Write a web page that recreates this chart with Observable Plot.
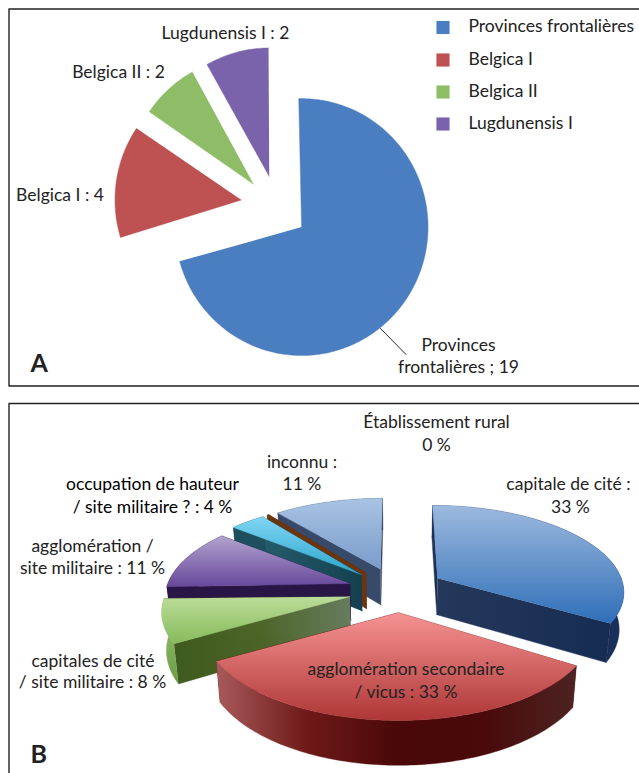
<!DOCTYPE html>
<html><head><meta charset="utf-8">
<script src="https://cdn.jsdelivr.net/npm/d3@7"></script>
<script src="https://cdn.jsdelivr.net/npm/@observablehq/plot@0.6"></script>
<style>html,body{margin:0;padding:0;background:#fff}svg{display:block}</style>
</head><body><div id="chart"></div>
<script>
// ---- data ----
const provinces = ["Provinces frontalières", "Belgica I", "Belgica II", "Lugdunensis I"];
const provinceCounts = [19, 4, 2, 2];
const siteTypes = ["capitale de cité", "agglomération secondaire / vicus", "capitales de cité / site militaire",
  "agglomération / site militaire", "occupation de hauteur / site militaire ?", "Établissement rural", "inconnu"];
const sitePercents = [33, 33, 8, 11, 4, 0.2, 11]; // "0 %" is drawn as a sliver in the source
const provinceColors = ["#4b7ec0", "#be5252", "#8fbd67", "#7b63ab"];

// ---- layout of the figure ----
const W = 639, H = 773, DEG = Math.PI / 180;
const pieA = {cx: 274.5, cy: 207, rx: 126.5, ry: 128.5, explode: 33, rot: -0.3 * DEG};
const shiftA = [[0, 0], [-1, -2], [0, 2], [2, 1]];
const twistA = [[-1, 1.5], [0, -2.5], [-2, -2], [-2.5, 0]]; // degrees, start and end of each rim
const pieB = {cx: 396, cy: 589, a: 187, b: 85.8, k: 0.1386, explode: 0.26, depth: 37, converge: 0.02};
const twistB = [[0, 2], [3.6, 3.6], [3, 3], [2, 2.5], [3.5, 2], [2, 2], [0, 0]];
const rimShiftB = [0, 0, 4, 3, 0, 0, 0];

// gradient styles [id, horizontal?, stops]
const gradients = [
  ["bTop", false, ["#9db9de", "#2f6fb8"]],
  ["bWall", true, ["#24385b", "#162c52"]],
  ["rTop", false, ["#f59392", "#ae3636"]],
  ["rWall", true, ["#a85a5a", "#6e1a18", "#4a0808", "#4a0a0a", "#4d2323"]],
  ["gTop", false, ["#bbdc98", "#86bb5c"]],
  ["gWall", true, ["#3f5a1e", "#4c6427", "#667c5e"]],
  ["gOuter", false, ["#9bc570", "#6d9c46"]],
  ["pTop", false, ["#b3a3cf", "#66489a"]],
  ["cTop", false, ["#80d6f4", "#2ba5cc"]],
  ["cWall", true, ["#245c6c", "#15404f"]],
  ["iTop", false, ["#a8c3e3", "#7a9ccb"]]
];
const sliceStyles = [
  {top: "url(#bTop)", cut: "url(#bWall)", outer: "#18305a"},
  {top: "url(#rTop)", cut: "#5a1010", outer: "url(#rWall)"},
  {top: "url(#gTop)", cut: "url(#gWall)", outer: "url(#gOuter)"},
  {top: "url(#pTop)", cut: "#2a1646", outer: "#2a1646"},
  {top: "url(#cTop)", cut: "url(#cWall)", outer: "#1d4f5f"},
  {top: "#6a3510", cut: "#6a3510", outer: "#6a3510"},
  {top: "url(#iTop)", cut: "#384a69", outer: "#384a69"}
];
const paintOrder = [6, 5, 4, 3, 0, 2, 1]; // back to front

function arcSteps(a0, a1) {
  const n = Math.max(2, Math.ceil(Math.abs(a1 - a0) / 0.02));
  return d3.range(n + 1).map(i => a0 + (a1 - a0) * i / n);
}

// ---- pie A, flat and exploded ----
const arcsA = d3.pie().sort(null)(provinceCounts);
const polysA = arcsA.map((d, i) => {
  const s = d.startAngle + pieA.rot, e = d.endAngle + pieA.rot, m = (s + e) / 2;
  const ox = pieA.cx + pieA.explode * Math.sin(m) + shiftA[i][0], oy = pieA.cy - pieA.explode * Math.cos(m) + shiftA[i][1];
  const rim = arcSteps(s + twistA[i][0] * DEG, e + twistA[i][1] * DEG)
    .map(t => ({x: ox + pieA.rx * Math.sin(t), y: oy - pieA.ry * Math.cos(t)}));
  return {pts: [{x: ox, y: oy}, ...rim], fill: provinceColors[i]};
});

// ---- pie B, exploded with a perspective projection and a vertical extrusion ----
function project(u, v) {
  const s = 1 / (1 - pieB.k * v);
  return {x: pieB.cx + pieB.a * u * s, y: pieB.cy + pieB.b * v * s, d: pieB.depth * s};
}
const lower = p => ({x: p.x + (pieB.cx - p.x) * pieB.converge, y: p.y + p.d});
const arcsB = d3.pie().sort(null)(sitePercents);
const polysB = [];
for (const i of paintOrder) {
  const d = arcsB[i], m = (d.startAngle + d.endAngle) / 2, st = sliceStyles[i];
  const du = pieB.explode * Math.sin(m), dv = -pieB.explode * Math.cos(m);
  const apex = project(du, dv);
  const rim = arcSteps(d.startAngle + twistB[i][0] * DEG, d.endAngle + twistB[i][1] * DEG)
    .map(t => project(du + Math.sin(t), dv - Math.cos(t)))
    .map(p => ({...p, x: p.x + rimShiftB[i]}));
  const a = rim[0], z = rim[rim.length - 1];
  polysB.push({pts: [apex, a, lower(a), lower(apex)], fill: st.cut});
  polysB.push({pts: [apex, z, lower(z), lower(apex)], fill: st.cut});
  polysB.push({pts: [...rim, ...rim.map(lower).reverse()], fill: st.outer});
  polysB.push({pts: [apex, ...rim], fill: st.top});
}

// ---- text ----
const textRows = [
  ["Lugdunensis I : 2", 225, 33], ["Belgica II : 2", 118, 72], ["Belgica I : 4", 59.5, 195],
  ["Provinces", 458, 345], ["frontalières ; 19", 458, 367],
  ["Établissement rural", 436, 422], ["0 %", 436, 445],
  ["inconnu :", 301.5, 462], ["11 %", 301.5, 484],
  ["capitale de cité :", 568, 484], ["33 %", 570, 507],
  ["agglomération /", 92, 546], ["site militaire : 11 %", 92, 568],
  ["capitales de cité", 92.5, 661], ["/ site militaire : 8 %", 92, 682],
  ["agglomération secondaire", 405.5, 669], ["/ vicus : 33 %", 405.5, 692]
].map(([t, x, y]) => ({t, x, y}));
const boldish = [
  {t: "occupation de hauteur", x: 152, y: 484},
  {t: "/ site militaire ? : 4 %", x: 152, y: 507}
];
const legendY = [27, 59.5, 91.5, 123.5];
const legendRows = provinces.map((p, i) => ({p, y: legendY[i], fill: provinceColors[i]}));
const panelTags = [{t: "A", x: 30, y: 363}, {t: "B", x: 30, y: 754}];
const frameLines = [
  [{x: 640, y: 8.5}, {x: 8.5, y: 8.5}, {x: 8.5, y: 385.5}, {x: 640, y: 385.5}],
  [{x: 640, y: 403}, {x: 8.5, y: 403}, {x: 8.5, y: 774}]
];
const leader = [{x: 380, y: 328}, {x: 405.5, y: 354}];

const FONT = "Lato, 'Open Sans', sans-serif";
const defsMark = () => {
  const defs = d3.create("svg:defs");
  for (const [id, horiz, stops] of gradients) {
    const g = defs.append("linearGradient").attr("id", id)
      .attr("x1", 0).attr("y1", 0).attr("x2", horiz ? 1 : 0).attr("y2", horiz ? 0 : 1);
    stops.forEach((c, i) => g.append("stop").attr("offset", i / (stops.length - 1)).attr("stop-color", c));
  }
  return defs.node();
};
const poly = p => Plot.line(p.pts, {x: "x", y: "y", fill: p.fill, stroke: p.fill, strokeWidth: 0.4});

const chart = Plot.plot({
  width: W, height: H, margin: 0,
  style: {background: "#fff", fontFamily: FONT},
  x: {domain: [0, W], range: [0, W], axis: null},
  y: {domain: [0, H], range: [0, H], axis: null},
  marks: [
    defsMark,
    ...frameLines.map(f => Plot.line(f, {x: "x", y: "y", stroke: "#222", strokeWidth: 1.4})),
    ...polysA.map(poly),
    Plot.line(leader, {x: "x", y: "y", stroke: "#111", strokeWidth: 0.9}),
    ...polysB.map(poly),
    Plot.dot(legendRows, {x: () => 442.5, y: "y", symbol: "square", r: 7.4, fill: "fill"}),
    Plot.text(legendRows, {x: () => 468, y: d => d.y - 0.7, text: "p", textAnchor: "start", fontSize: 17.5, fill: "#222"}),
    Plot.text(textRows, {x: "x", y: "y", text: "t", fontSize: 17.5, fill: "#222"}),
    Plot.text(boldish, {x: "x", y: "y", text: "t", fontSize: 17.5, fill: "#000"}),
    Plot.text(panelTags, {x: "x", y: "y", text: "t", textAnchor: "start", fontSize: 25, fontWeight: 700, fill: "#222"})
  ]
});
document.getElementById("chart").append(chart);
</script></body></html>
